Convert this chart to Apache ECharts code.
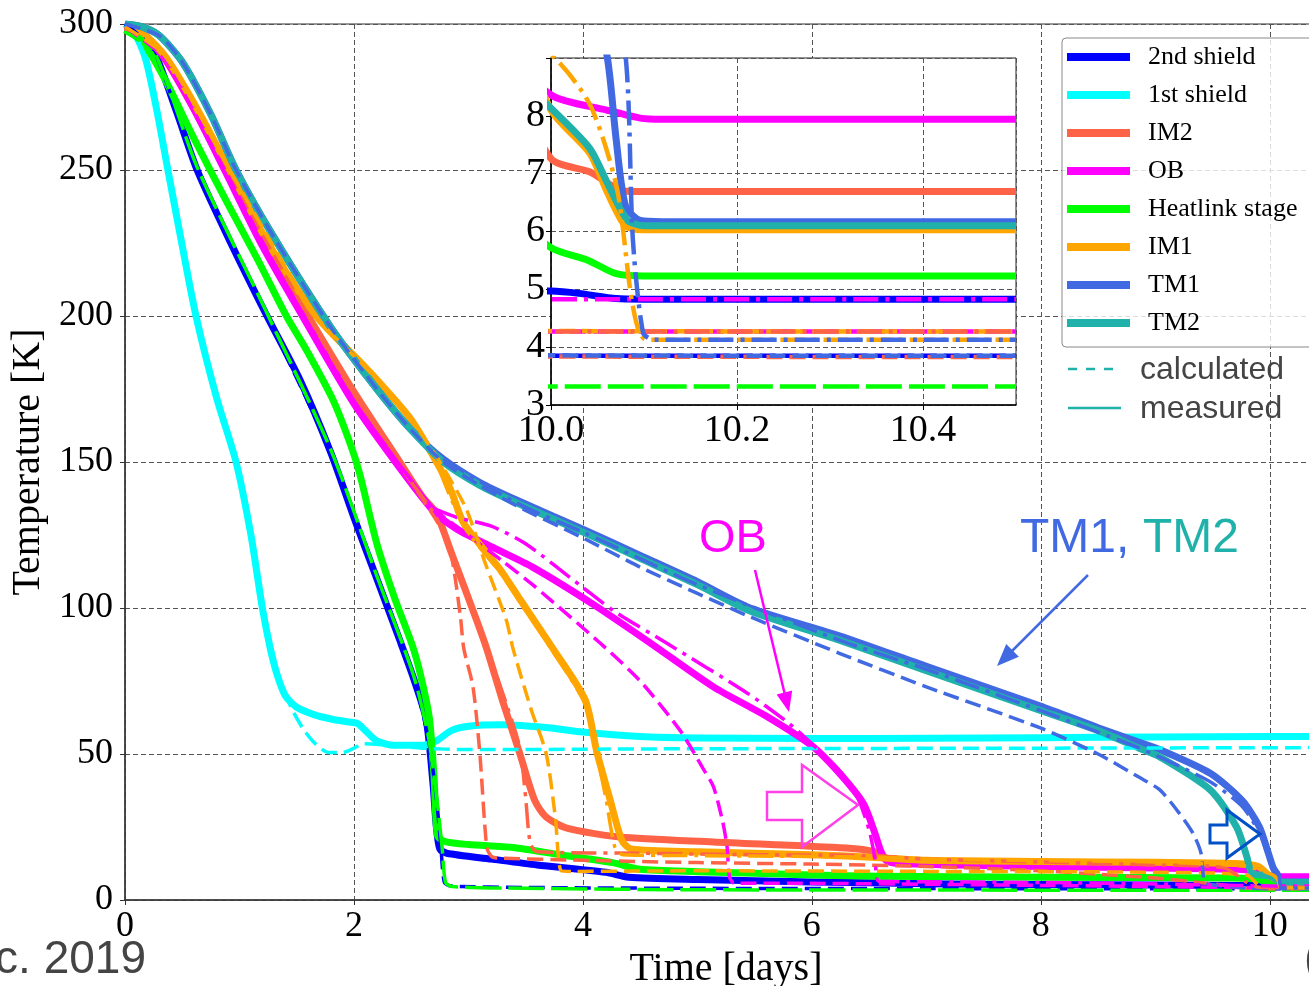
<!DOCTYPE html>
<html><head><meta charset="utf-8">
<script src="https://cdn.jsdelivr.net/npm/echarts@6/dist/echarts.min.js"></script>
<style>html,body{margin:0;padding:0;background:#fff}#c{width:1309px;height:986px}</style>
</head><body><div id="c"></div>
<script>
// ---------- data: [time in days, temperature in K] ----------
const LEGEND_NAMES = ['2nd shield','1st shield','IM2','OB','Heatlink stage','IM1','TM1','TM2'];

// measured (solid)
const SH2_MEAS = [[0,300],[0.1,298],[0.25,291],[0.45,270],[0.63,250],[0.9,227],[1.24,200],[1.53,178],[1.8,153],[2.0,131],[2.2,110],[2.4,89],[2.52,76],[2.63,62],[2.69,40],[2.72,25],[2.75,17.5],[2.81,16],[3.2,14],[3.6,12],[4.2,9.5],[4.4,7.8],[5.0,7.0],[6.0,6.2],[7.0,5.6],[8.0,5.3],[9.0,5.1],[9.8,5.0],[10.0,4.97],[10.03,4.93],[10.07,4.84],[10.1,4.83],[10.5,4.83]];
const SH1_MEAS = [[0,300],[0.08,297],[0.18,288],[0.28,270],[0.37,251],[0.5,224],[0.62,200],[0.8,172],[0.97,150],[1.1,125],[1.2,100],[1.27,86],[1.33,77],[1.4,70],[1.5,66],[1.65,63.5],[1.8,62],[1.95,61],[2.03,60.5],[2.1,58],[2.2,54.5],[2.35,53],[2.6,53],[2.72,54.5],[2.85,58],[3.0,59.5],[3.3,60],[3.7,59],[4.0,57.5],[4.5,56],[5.0,55.5],[6.0,55.3],[7.0,55.4],[8.0,55.6],[9.0,55.8],[10.0,56],[10.5,56]];
const IM2_MEAS = [[0,299],[0.15,297],[0.35,288],[0.6,271],[0.88,250],[1.2,226],[1.6,200],[2.0,174],[2.4,150],[2.6,138],[2.72,132.5],[2.85,119],[3.07,96],[3.16,86],[3.3,68],[3.45,50],[3.58,34],[3.68,28.4],[3.86,24.6],[4.32,21.6],[5.14,19.9],[6.3,17.8],[6.55,16.5],[6.7,13.5],[7.0,12.8],[8.0,12.3],[9.7,11.8],[9.9,10],[10.0,7.26],[10.042,7.03],[10.078,6.7],[10.1,6.69],[10.5,6.69]];
const OB_MEAS = [[0,299],[0.15,297],[0.35,288],[0.6,271],[0.87,250],[1.2,224],[1.55,200],[2.0,170],[2.4,148],[2.7,133],[2.9,127],[3.2,121],[3.56,114],[4.1,101],[4.59,88],[5.14,73],[5.6,63],[6.01,52.5],[6.25,43],[6.45,33],[6.55,23],[6.6,17],[6.65,13.5],[6.75,12.5],[8.0,11.5],[9.7,10.5],[9.9,9.8],[10.0,8.36],[10.06,8.1],[10.096,7.96],[10.12,7.94],[10.5,7.94]];
const HL_MEAS = [[0,298],[0.15,294],[0.35,281],[0.6,261],[0.89,239],[1.15,220],[1.41,200],[1.59,188],[1.82,171],[1.97,156],[2.05,146],[2.2,122],[2.35,104],[2.52,86],[2.6,74],[2.66,62],[2.7,42],[2.73,22],[2.8,20],[3.0,19],[3.39,18],[3.8,15.5],[4.26,12.8],[4.5,10.5],[5.0,9.7],[6.0,8.6],[6.6,8.1],[8.0,7.8],[9.7,7.5],[9.9,7.0],[10.0,5.72],[10.04,5.5],[10.07,5.27],[10.1,5.23],[10.5,5.23]];
const IM1_MEAS = [[0,299],[0.15,297],[0.35,289],[0.6,273],[0.9,251],[1.25,225],[1.67,200],[2.11,182],[2.49,165],[2.75,148],[2.85,140],[2.96,129],[3.28,113],[3.45,103],[3.74,86],[4.02,68.5],[4.12,51],[4.24,34],[4.34,20.5],[4.42,17.5],[5.0,16.5],[6.0,15.5],[6.6,14.5],[7.0,13.6],[8.0,13.2],[9.0,12.9],[9.7,12.5],[9.9,11.5],[10.0,8.1],[10.042,7.35],[10.06,6.7],[10.08,6.1],[10.1,6.03],[10.5,6.03]];
const TM1_MEAS = [[0,300],[0.15,299],[0.3,296],[0.5,287],[0.75,269],[0.97,250],[1.3,227],[1.8,196],[2.2,175],[2.5,161],[2.78,151],[3.1,143],[3.42,137],[4.0,127],[4.5,118],[5.0,109],[5.46,100],[6.24,90.5],[7.0,80],[7.99,66.5],[8.5,59],[8.86,54],[9.04,51.5],[9.48,43.4],[9.76,34],[9.91,25],[9.98,17],[10.03,11],[10.06,9.06],[10.07,7.6],[10.08,6.45],[10.096,6.19],[10.12,6.17],[10.5,6.17]];
const TM2_MEAS = [[0,300],[0.15,299],[0.3,296],[0.5,287],[0.75,269],[0.97,250],[1.3,227],[1.8,196],[2.2,175],[2.5,161],[2.78,150],[3.1,142],[3.42,136],[4.0,126],[4.5,117],[5.0,108],[5.46,99],[6.24,89],[7.0,78.5],[7.99,65],[8.5,58],[8.86,52],[9.04,49],[9.48,37.7],[9.71,25],[9.8,14.8],[9.83,10.3],[9.87,8.8],[9.98,8.4],[10.0,8.13],[10.042,7.43],[10.06,6.86],[10.082,6.2],[10.1,6.1],[10.5,6.1]];

// calculated (dashed)
const SH1_CALC = [[0,300],[0.08,297],[0.18,288],[0.28,270],[0.37,251],[0.5,224],[0.62,200],[0.8,172],[0.97,150],[1.1,124],[1.2,102],[1.27,88],[1.35,76],[1.45,66],[1.55,59],[1.65,54],[1.78,50.5],[1.9,50.5],[2.0,52],[2.08,53.5],[2.3,53],[2.6,52],[3.0,51.5],[5.0,51.8],[8.0,52],[10.5,52.2]];
const SH2_CALC = [[0,300],[0.25,291],[0.63,250],[1.24,200],[1.8,153],[2.2,110],[2.52,76],[2.65,55],[2.72,35],[2.76,18],[2.79,6],[2.85,4.8],[3.5,4.3],[5.0,4.0],[7.0,3.9],[9.5,3.86],[10.0,3.85],[10.5,3.85]];
const HL_CALC = [[0,299],[0.25,291],[0.63,251],[1.24,201],[1.8,154],[2.2,111],[2.52,77],[2.65,56],[2.72,36],[2.77,18],[2.8,6],[2.86,4.6],[3.5,4.0],[5.0,3.5],[7.0,3.4],[10.0,3.32],[10.5,3.32]];
const IM2_CALC = [[0,299],[0.35,288],[0.88,250],[1.6,200],[2.0,173],[2.4,149],[2.75,128],[2.85,118],[2.93,97],[2.96,86],[3.04,73],[3.1,50],[3.16,18],[3.2,15],[3.25,14.4],[4.0,13.6],[5.0,12.8],[6.0,12.3],[7.0,11.5],[8.0,10],[9.0,7.5],[9.5,5.5],[9.8,4.1],[10.0,3.84],[10.5,3.83]];
const OB_CALC = [[0,299],[0.35,288],[0.87,250],[1.55,200],[2.0,171],[2.4,149],[2.7,134],[3.0,125],[3.3,116],[3.56,108],[4.15,88],[4.5,75],[4.85,58],[5.05,45],[5.14,38.8],[5.22,27],[5.26,18],[5.28,8],[5.32,5.8],[6.0,5.7],[7.0,5.4],[8.0,5.0],[9.0,4.6],[9.8,4.3],[10.0,4.27],[10.5,4.27]];
const IM1_CALC = [[0,299],[0.35,289],[0.9,251],[1.67,200],[2.11,182],[2.49,165],[2.75,150],[2.98,134],[3.15,115],[3.33,96],[3.39,86],[3.55,65],[3.68,50],[3.76,28],[3.81,10],[3.9,9.8],[5.0,10],[7.0,9.8],[9.0,9.5],[9.8,8.5],[9.92,4.5],[10.0,4.28],[10.5,4.27]];
const TM1_CALC = [[0,300],[0.3,296],[0.5,287],[0.75,269],[0.97,250],[1.3,227],[1.8,196],[2.2,175],[2.5,161],[2.78,150],[3.1,142],[3.42,135],[4.0,124],[4.5,114],[5.0,105],[5.46,97],[6.24,84.5],[7.0,73],[7.99,59],[8.5,50],[8.86,42],[9.04,37.7],[9.21,29.7],[9.33,22.8],[9.4,16],[9.43,6.2],[9.5,5.2],[9.8,4.1],[10.0,3.86],[10.5,3.85]];

// alternative calculation (dash-dot)
const IM2_ALT = [[2.5,143],[2.72,131],[2.9,113],[3.07,97],[3.2,82],[3.35,65],[3.45,52],[3.5,35],[3.54,19.5],[3.6,16.5],[4.5,16],[5.5,15.5],[6.5,15.2],[7.0,14],[8.0,13],[9.0,12],[9.6,11],[9.8,6],[9.9,4.4],[10.0,4.27],[10.5,4.27]];
const OB_ALT = [[2.7,134],[2.9,131],[3.2,128],[3.5,122],[4.0,107],[4.27,99],[4.73,88],[5.43,71],[5.8,60.5],[6.0,53.5],[6.25,44],[6.4,35],[6.5,24],[6.55,14.5],[6.58,6.5],[6.7,6.3],[8.0,6],[9.0,5.5],[9.7,5.0],[9.9,4.86],[10.0,4.83],[10.5,4.83]];
const IM1_ALT = [[2.75,147],[2.96,128],[3.28,112],[3.45,102],[3.74,85],[4.02,67],[4.12,50],[4.2,35],[4.28,18],[4.35,15.5],[5.0,15.2],[6.0,14.9],[6.6,14.6],[7.0,14],[8.0,13.5],[9.0,13],[9.8,11.5],[10.0,9.06],[10.042,8.19],[10.071,6.74],[10.088,4.71],[10.103,4.13],[10.5,4.13]];
const TM1_ALT = [[2.78,151],[3.42,136],[4.0,126],[5.0,108],[6.24,89],[7.0,79],[7.99,65],[8.5,57.5],[8.86,52],[9.2,46],[9.5,40],[9.76,32],[9.91,23],[9.98,16],[10.03,12],[10.06,10],[10.08,9.06],[10.088,5.87],[10.099,4.25],[10.11,4.13],[10.5,4.13]];

// ---------- styling ----------
const SERIF = 'Liberation Serif';
const COL = {sh2:'#0000ff', sh1:'#00ffff', im2:'#ff6347', ob:'#ff00ff', hl:'#00ff00', im1:'#ffa500', tm1:'#4169e1', tm2:'#20b2aa'};
const DASH = [16,7], LONGDASH = [36,7], DASHDOT = [25,7,4,7];

const measTable = [
  [LEGEND_NAMES[0], SH2_MEAS, COL.sh2], [LEGEND_NAMES[1], SH1_MEAS, COL.sh1],
  [LEGEND_NAMES[2], IM2_MEAS, COL.im2], [LEGEND_NAMES[3], OB_MEAS, COL.ob],
  [LEGEND_NAMES[4], HL_MEAS, COL.hl], [LEGEND_NAMES[5], IM1_MEAS, COL.im1],
  [LEGEND_NAMES[6], TM1_MEAS, COL.tm1], [LEGEND_NAMES[7], TM2_MEAS, COL.tm2]
];
const calcTable = [
  ['sh1c', SH1_CALC, COL.sh1, DASH], ['sh2c', SH2_CALC, COL.sh2, DASH],
  ['hlc', HL_CALC, COL.hl, LONGDASH], ['im2c', IM2_CALC, COL.im2, DASH],
  ['obc', OB_CALC, COL.ob, DASH], ['im1c', IM1_CALC, COL.im1, DASH],
  ['tm1c', TM1_CALC, COL.tm1, DASH],
  ['im2a', IM2_ALT, COL.im2, DASHDOT], ['oba', OB_ALT, COL.ob, DASHDOT],
  ['im1a', IM1_ALT, COL.im1, DASHDOT], ['tm1a', TM1_ALT, COL.tm1, DASHDOT]
];

function mkLine(name, data, color, width, type, g) {
  return {
    type:'line', name: name, data: data, xAxisIndex:g, yAxisIndex:g,
    symbol:'none', showSymbol:false, smooth:0.25,
    lineStyle:{color:color, width:width, type:type, cap:'butt', join:'round'},
    itemStyle:{color:color}, z: g === 0 ? 2 : 12, silent:true, animation:false, clip:true
  };
}
const series = [];
[0,1].forEach(g => {
  measTable.forEach(r => series.push(mkLine(g === 0 ? r[0] : r[0] + ' (inset)', r[1], r[2], 7, 'solid', g)));
  calcTable.forEach(r => series.push(mkLine(r[0] + '_' + g, r[1], r[2], g === 0 ? 3.5 : 4.5, r[3], g)));
});

const gridLine = {show:true, lineStyle:{color:'#555', width:1, type:[5,3]}};
const option = {
  animation:false,
  backgroundColor:'#fff',
  grid:[
    {left:125, top:24, width:1202, height:876, show:true, borderColor:'#333', borderWidth:1, backgroundColor:'transparent', containLabel:false, outerBoundsMode:'none'},
    {left:551, top:58, width:465, height:347, show:true, borderColor:'#222', borderWidth:1, backgroundColor:'#fff', z:10, containLabel:false, outerBoundsMode:'none'}
  ],
  xAxis:[
    {type:'value', gridIndex:0, min:0, max:10.5, interval:2,
     axisLine:{show:true, onZero:false, lineStyle:{color:'#333', width:1.5}},
     axisTick:{show:true, inside:false, length:5, lineStyle:{color:'#333'}},
     axisLabel:{fontFamily:SERIF, fontSize:36, color:'#000', margin:9, showMaxLabel:false},
     splitLine:gridLine,
     name:'Time [days]', nameLocation:'middle', nameGap:45,
     nameTextStyle:{fontFamily:SERIF, fontSize:40, color:'#000'}},
    {type:'value', gridIndex:1, min:10.0, max:10.5, interval:0.2, z:11,
     axisLine:{show:true, onZero:false, lineStyle:{color:'#000', width:1.5}},
     axisTick:{show:true, inside:false, length:5, lineStyle:{color:'#000'}},
     axisLabel:{fontFamily:SERIF, fontSize:38, color:'#000', margin:7, showMaxLabel:false,
       formatter: v => (Math.abs(v - 10.5) < 1e-6 ? '' : v.toFixed(1))},
     splitLine:gridLine}
  ],
  yAxis:[
    {type:'value', gridIndex:0, min:0, max:300, interval:50,
     axisLine:{show:true, onZero:false, lineStyle:{color:'#333', width:1.5}},
     axisTick:{show:true, inside:false, length:5, lineStyle:{color:'#333'}},
     axisLabel:{fontFamily:SERIF, fontSize:36, color:'#000', margin:12},
     splitLine:gridLine,
     name:'Temperature [K]', nameLocation:'middle', nameGap:74,
     nameTextStyle:{fontFamily:SERIF, fontSize:40, color:'#000'}},
    {type:'value', gridIndex:1, min:3, max:9, interval:1, z:11,
     axisLine:{show:true, onZero:false, lineStyle:{color:'#000', width:1.5}},
     axisTick:{show:true, inside:false, length:5, lineStyle:{color:'#000'}},
     axisLabel:{fontFamily:SERIF, fontSize:38, color:'#000', margin:6,
       formatter: v => (v >= 8.99 ? '' : String(v))},
     splitLine:gridLine}
  ],
  legend:{
    data:LEGEND_NAMES, orient:'vertical', left:1062, top:38, icon:'rect',
    itemWidth:63, itemHeight:8, itemGap:12, selectedMode:false,
    textStyle:{fontFamily:SERIF, fontSize:26, lineHeight:26, color:'#000', padding:[0,0,0,13]},
    backgroundColor:'rgba(255,255,255,0.8)', borderColor:'#888', borderWidth:1, borderRadius:4,
    padding:[6,70,11,5], z:20
  },
  graphic:[
    {type:'line', z:30, shape:{x1:1068,y1:369,x2:1121,y2:369}, style:{stroke:COL.tm2, lineWidth:2.5, lineDash:[9,9]}},
    {type:'text', z:30, x:1140, y:370, style:{text:'calculated', font:'32px "Liberation Sans"', fill:'#444', textVerticalAlign:'middle'}},
    {type:'line', z:30, shape:{x1:1068,y1:408,x2:1121,y2:408}, style:{stroke:COL.tm2, lineWidth:2.5}},
    {type:'text', z:30, x:1140, y:409, style:{text:'measured', font:'32px "Liberation Sans"', fill:'#444', textVerticalAlign:'middle'}},
    {type:'text', z:30, x:733, y:539, style:{text:'OB', font:'47px "Liberation Sans"', fill:COL.ob, textAlign:'center', textVerticalAlign:'middle'}},
    {type:'text', z:30, x:1020, y:539, style:{text:'TM1,', font:'48px "Liberation Sans"', fill:COL.tm1, textVerticalAlign:'middle'}},
    {type:'text', z:30, x:1143, y:539, style:{text:'TM2', font:'48px "Liberation Sans"', fill:COL.tm2, textVerticalAlign:'middle'}},
    {type:'polyline', z:30, shape:{points:[[755,570],[785,695]]}, style:{stroke:COL.ob, lineWidth:2.5, fill:null}},
    {type:'polygon', z:30, shape:{points:[[789,712],[792.2,690.6],[776.6,694.4]]}, style:{fill:COL.ob}},
    {type:'polyline', z:30, shape:{points:[[1088,575],[1010,653]]}, style:{stroke:COL.tm1, lineWidth:2.5, fill:null}},
    {type:'polygon', z:30, shape:{points:[[997,666],[1018.9,656.8],[1006.2,644.0]]}, style:{fill:COL.tm1}},
    {type:'polygon', z:30, shape:{points:[[767,792],[802,792],[802,765],[858,805],[802,847],[802,820],[767,820]]}, style:{fill:null, stroke:'#ff40e8', lineWidth:2.5}},
    {type:'polygon', z:30, shape:{points:[[1210,825],[1227,825],[1227,810],[1260,834],[1227,858],[1227,843],[1210,843]]}, style:{fill:null, stroke:'#0050c8', lineWidth:3}},
    {type:'text', z:30, x:146, y:960, style:{text:'c. 2019', font:'46px "Liberation Sans"', fill:'#444', textAlign:'right', textVerticalAlign:'middle'}},
    {type:'text', z:30, x:1304, y:960, style:{text:'(', font:'46px "Liberation Sans"', fill:'#444', textVerticalAlign:'middle'}}
  ],
  series: series
};
const chart = echarts.init(document.getElementById('c'), null, {renderer:'canvas'});
chart.setOption(option);
</script></body></html>
